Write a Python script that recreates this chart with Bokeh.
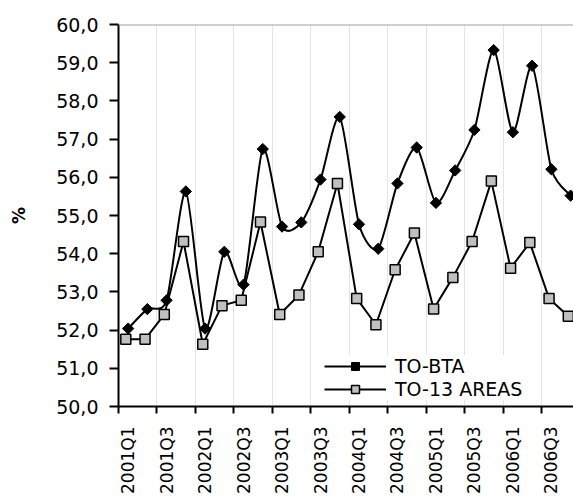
from math import pi
import numpy as np
from bokeh.plotting import figure
from bokeh.models import (Range1d, FixedTicker, Span, Legend, LegendItem,
                          ColumnDataSource)
from bokeh.transform import dodge
from bokeh.embed import file_html
from bokeh.resources import INLINE

# ---- data -------------------------------------------------------------
quarters = ["2001Q1", "2001Q2", "2001Q3", "2001Q4",
            "2002Q1", "2002Q2", "2002Q3", "2002Q4",
            "2003Q1", "2003Q2", "2003Q3", "2003Q4",
            "2004Q1", "2004Q2", "2004Q3", "2004Q4",
            "2005Q1", "2005Q2", "2005Q3", "2005Q4",
            "2006Q1", "2006Q2", "2006Q3", "2006Q4"]
to_bta = [52.04, 52.55, 52.78, 55.63, 52.04, 54.05, 53.19, 56.74,
          54.71, 54.82, 55.94, 57.58, 54.77, 54.13, 55.84, 56.78,
          55.33, 56.18, 57.24, 59.33, 57.18, 58.92, 56.21, 55.52]
to_13_areas = [51.76, 51.76, 52.41, 54.32, 51.63, 52.64, 52.78, 54.83,
               52.41, 52.92, 54.05, 55.84, 52.83, 52.14, 53.58, 54.54,
               52.55, 53.38, 54.32, 55.90, 53.62, 54.29, 52.83, 52.36]
y_ticks = [50, 51, 52, 53, 54, 55, 56, 57, 58, 59, 60]
y_tick_labels = ["50,0", "51,0", "52,0", "53,0", "54,0", "55,0",
                 "56,0", "57,0", "58,0", "59,0", "60,0"]

# category index -> centre of category slot
n = len(quarters)
xpos = [i + 0.5 for i in range(n)]
label_pos = xpos[::2]
label_txt = quarters[::2]
boundaries = [float(i) for i in range(0, n, 2)]

FONT = "DejaVu Sans"

p = figure(width=573, height=496,
           x_range=Range1d(0, 23.65), y_range=Range1d(50, 60),
           output_backend="svg", toolbar_location=None,
           min_border_left=118, min_border_right=0,
           min_border_top=24, min_border_bottom=82)
p.outline_line_color = None
p.background_fill_color = "white"
p.border_fill_color = "white"

# top border of plot area
p.add_layout(Span(location=60, dimension="width",
                  line_color="#a0a0a0", line_width=2))

# ---- series -----------------------------------------------------------
# smoothed TO-BTA line: cubic Bezier segments through the data points
TENSION = 1.0 / 8.0
P = np.column_stack([xpos, to_bta])
segs = dict(x0=[], y0=[], x1=[], y1=[], cx0=[], cy0=[], cx1=[], cy1=[])
for i in range(n - 1):
    p0 = P[max(i - 1, 0)]
    p1 = P[i]
    p2 = P[i + 1]
    p3 = P[min(i + 2, n - 1)]
    c0 = p1 + (p2 - p0) * TENSION
    c1 = p2 - (p3 - p1) * TENSION
    segs["x0"].append(p1[0]); segs["y0"].append(p1[1])
    segs["x1"].append(p2[0]); segs["y1"].append(p2[1])
    segs["cx0"].append(c0[0]); segs["cy0"].append(c0[1])
    segs["cx1"].append(c1[0]); segs["cy1"].append(c1[1])

r_bez = p.bezier(x0="x0", y0="y0", x1="x1", y1="y1",
                 cx0="cx0", cy0="cy0", cx1="cx1", cy1="cy1",
                 source=ColumnDataSource(segs),
                 line_color="black", line_width=2)

src = ColumnDataSource(dict(x=xpos, bta=to_bta, areas=to_13_areas))
r_dia = p.scatter(x="x", y="bta", source=src, marker="square",
                  angle=pi / 4, size=8, fill_color="black",
                  line_color="black", line_width=1)

r_line13 = p.line(x=dodge("x", -0.12), y="areas", source=src,
                  line_color="black", line_width=2)
r_sq = p.scatter(x=dodge("x", -0.12), y="areas", source=src,
                 marker="square", size=10, fill_color="#c0c0c0",
                 line_color="black", line_width=1.5)

# ---- axes -------------------------------------------------------------
xa = p.xaxis[0]
xa.ticker = FixedTicker(ticks=label_pos, minor_ticks=boundaries)
xa.major_label_overrides = {pos: lab for pos, lab in zip(label_pos, label_txt)}
xa.major_tick_out = 0
xa.major_tick_in = 0
xa.minor_tick_out = 7
xa.minor_tick_in = 0
xa.minor_tick_line_color = "black"
xa.minor_tick_line_width = 2
xa.axis_line_color = "black"
xa.axis_line_width = 2
xa.major_label_orientation = pi / 2
xa.major_label_standoff = 13
xa.major_label_text_font = FONT
xa.major_label_text_font_size = "17px"
xa.major_label_text_color = "black"

ya = p.yaxis[0]
ya.ticker = FixedTicker(ticks=y_ticks)
ya.major_label_overrides = {t: l for t, l in zip(y_ticks, y_tick_labels)}
ya.major_tick_out = 9
ya.major_tick_in = 0
ya.major_tick_line_width = 2
ya.major_tick_line_color = "black"
ya.minor_tick_line_color = None
ya.axis_line_color = "black"
ya.axis_line_width = 2
ya.major_label_standoff = 11
ya.major_label_text_font = FONT
ya.major_label_text_font_size = "19px"
ya.major_label_text_color = "black"
ya.axis_label = "%"
ya.axis_label_text_font = FONT
ya.axis_label_text_font_size = "17px"
ya.axis_label_text_font_style = "bold"
ya.axis_label_text_color = "black"
ya.axis_label_standoff = 24

p.xgrid.ticker = FixedTicker(ticks=boundaries[1:])
p.xgrid.grid_line_color = "#c8c8c8"
p.xgrid.grid_line_width = 1
p.xgrid.grid_line_dash = "1 1"
p.ygrid.visible = False

# ---- legend -----------------------------------------------------------
legend = Legend(items=[LegendItem(label="TO-BTA", renderers=[r_bez, r_dia]),
                       LegendItem(label="TO-13 AREAS", renderers=[r_line13, r_sq])],
                location=(206, 6), margin=0, padding=7, spacing=1,
                glyph_width=62, glyph_height=20, label_height=20,
                label_standoff=9, border_line_color=None,
                background_fill_color="white", background_fill_alpha=1.0,
                label_text_font=FONT, label_text_font_size="19px",
                label_text_color="black")
p.add_layout(legend)

open("out.html", "w").write(file_html(p, INLINE))
